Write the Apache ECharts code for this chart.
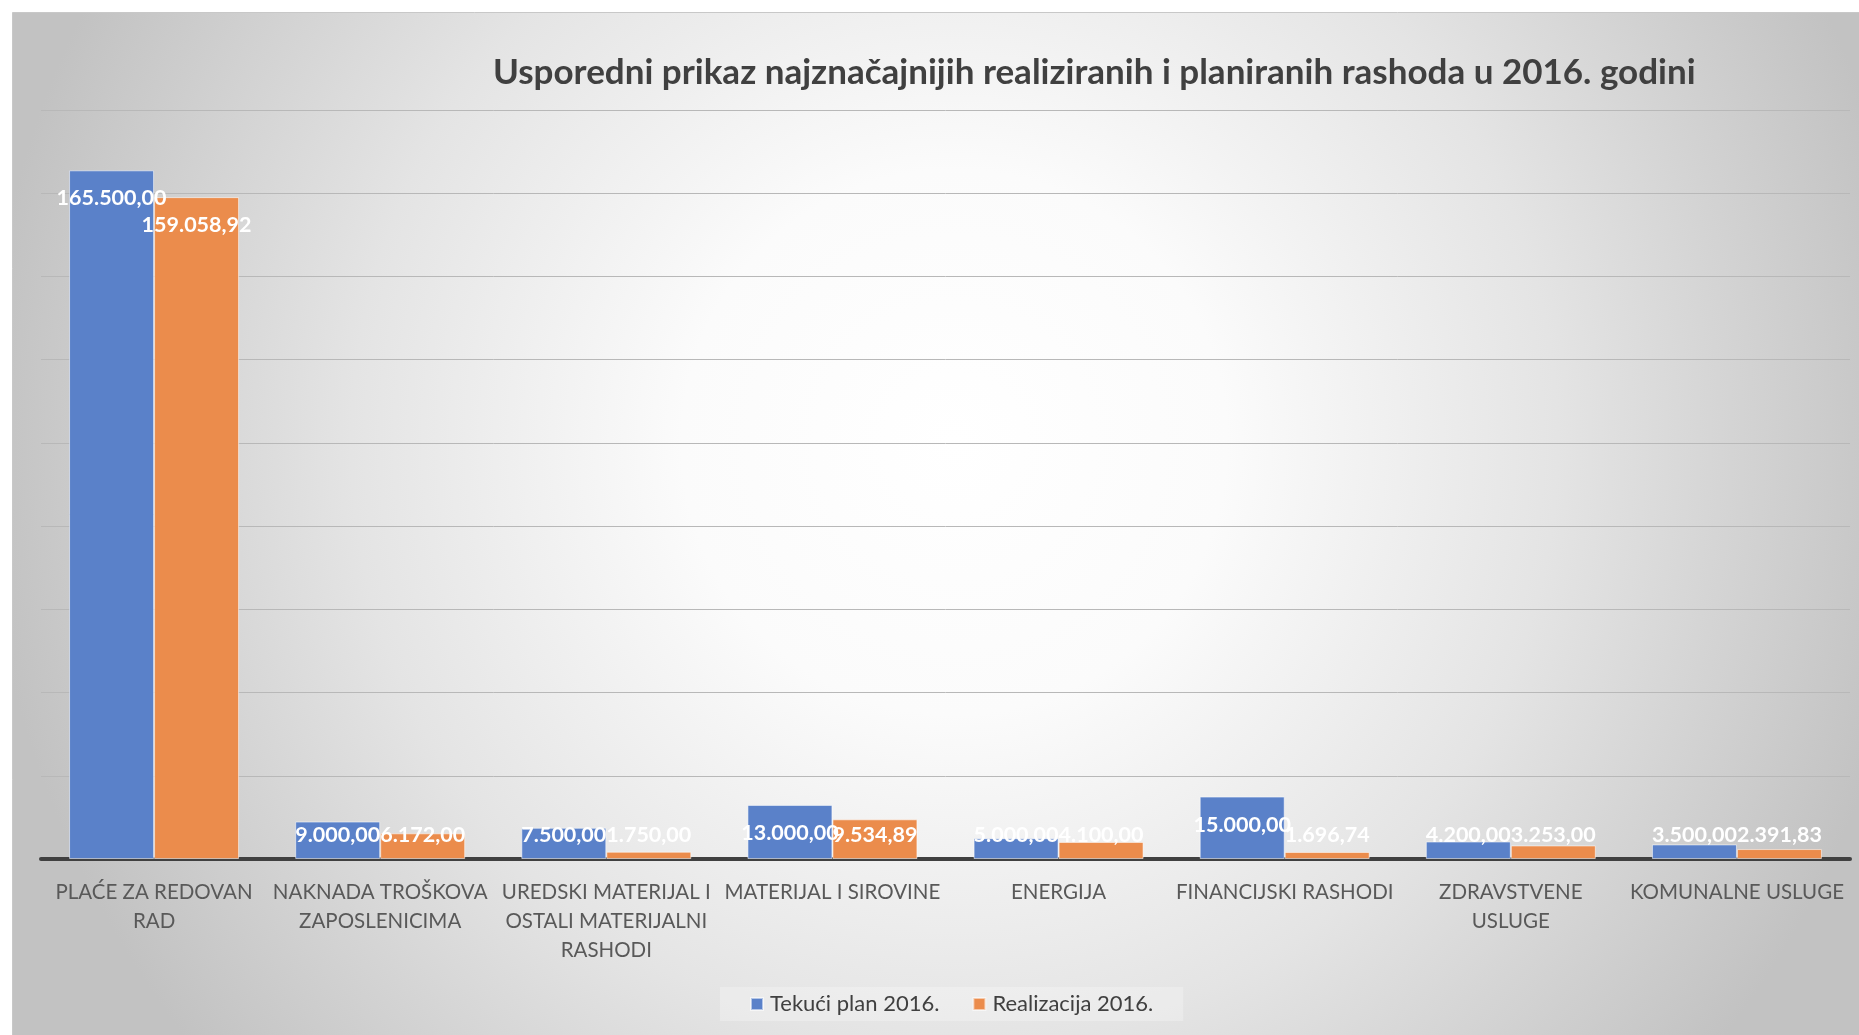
<!DOCTYPE html>
<html>
<head>
<meta charset="utf-8">
<script src="https://cdn.jsdelivr.net/npm/echarts@6/dist/echarts.min.js"></script>
<style>
html,body{margin:0;padding:0;background:#ffffff;}
#chart{width:1859px;height:1035px;}
</style>
</head>
<body>
<div id="chart"></div>
<script>
var titleText = 'Usporedni prikaz najznačajnijih realiziranih i planiranih rashoda u 2016. godini';
var categories = [
  'PLAĆE ZA REDOVAN RAD',
  'NAKNADA TROŠKOVA ZAPOSLENICIMA',
  'UREDSKI MATERIJAL I OSTALI MATERIJALNI RASHODI',
  'MATERIJAL I SIROVINE',
  'ENERGIJA',
  'FINANCIJSKI RASHODI',
  'ZDRAVSTVENE USLUGE',
  'KOMUNALNE USLUGE'
];
// tick label text as wrapped in the reference
var categoryLabels = [
  'PLAĆE ZA REDOVAN\nRAD',
  'NAKNADA TROŠKOVA\nZAPOSLENICIMA',
  'UREDSKI MATERIJAL I\nOSTALI MATERIJALNI\nRASHODI',
  'MATERIJAL I SIROVINE',
  'ENERGIJA',
  'FINANCIJSKI RASHODI',
  'ZDRAVSTVENE\nUSLUGE',
  'KOMUNALNE USLUGE'
];
var seriesNames = ['Tekući plan 2016.', 'Realizacija 2016.'];
var planValues = [165500.00, 9000.00, 7500.00, 13000.00, 5000.00, 15000.00, 4200.00, 3500.00];
var realValues = [159058.92, 6172.00, 1750.00, 9534.89, 4100.00, 1696.74, 3253.00, 2391.83];
var yMax = 180000;
var yInterval = 20000;

function fmtHr(v) {
  var parts = v.toFixed(2).split('.');
  var intPart = parts[0].replace(/\B(?=(\d{3})+(?!\d))/g, '.');
  return intPart + ',' + parts[1];
}

var chart = echarts.init(document.getElementById('chart'), null, {renderer: 'canvas'});

var labelCfg = {
  show: true,
  color: '#ffffff',
  fontFamily: 'Lato',
  fontWeight: 'bold',
  fontSize: 21.5,
  formatter: function (p) { return fmtHr(p.value); }
};

function labelLayout(params) {
  var r = params.rect;
  var bottom = r.y + r.height;
  return {
    x: r.x + r.width / 2,
    y: Math.min(r.y + 28, bottom - 24),
    align: 'center',
    verticalAlign: 'middle'
  };
}

var option = {
  backgroundColor: '#ffffff',
  graphic: [{
    type: 'rect',
    left: 12, top: 12, z: -10,
    shape: {width: 1847, height: 1023},
    style: {
      fill: new echarts.graphic.RadialGradient(0.51, 0.42, 0.95, [
        {offset: 0, color: '#ffffff'},
        {offset: 0.28, color: '#fbfbfb'},
        {offset: 0.62, color: '#e4e4e4'},
        {offset: 1, color: '#c2c2c2'}
      ]),
      stroke: '#c8c8c8',
      lineWidth: 1
    },
    silent: true
  }],
  title: {
    text: titleText,
    left: 488,
    top: 50,
    textStyle: {
      fontFamily: 'Lato',
      fontWeight: 'bold',
      fontSize: 35,
      color: '#404040'
    }
  },
  legend: {
    data: seriesNames,
    left: 720,
    top: 987,
    itemWidth: 12,
    itemHeight: 12,
    itemGap: 33,
    icon: 'rect',
    padding: [6, 30],
    backgroundColor: 'rgba(255,255,255,0.25)',
    textStyle: {
      fontFamily: 'Lato',
      fontSize: 22,
      color: '#404040',
      padding: [0, 0, 0, 2]
    }
  },
  grid: {
    left: 41,
    right: 9,
    top: 110,
    bottom: 176,
    containLabel: false
  },
  xAxis: {
    type: 'category',
    data: categories,
    axisTick: {show: false},
    axisLine: {show: true, lineStyle: {color: '#404040', width: 4}},
    axisLabel: {
      interval: 0,
      color: '#595959',
      fontFamily: 'Lato',
      fontSize: 20.5,
      lineHeight: 29,
      margin: 19,
      formatter: function (value, index) { return categoryLabels[index]; }
    }
  },
  yAxis: {
    type: 'value',
    min: 0,
    max: yMax,
    interval: yInterval,
    axisLabel: {show: false},
    axisLine: {show: false},
    axisTick: {show: false},
    splitLine: {lineStyle: {color: '#b8b8b8', width: 1}}
  },
  series: [
    {
      name: seriesNames[0],
      type: 'bar',
      data: planValues,
      barWidth: 85,
      barGap: '0%',
      itemStyle: {color: '#5a81c9', borderColor: 'rgba(255,255,255,0.55)', borderWidth: 1},
      label: labelCfg,
      labelLayout: labelLayout
    },
    {
      name: seriesNames[1],
      type: 'bar',
      data: realValues,
      barWidth: 85,
      barGap: '0%',
      itemStyle: {color: '#eb8c4c', borderColor: 'rgba(255,255,255,0.55)', borderWidth: 1},
      label: labelCfg,
      labelLayout: labelLayout
    }
  ],
  animation: false
};

chart.setOption(option);
</script>
</body>
</html>
